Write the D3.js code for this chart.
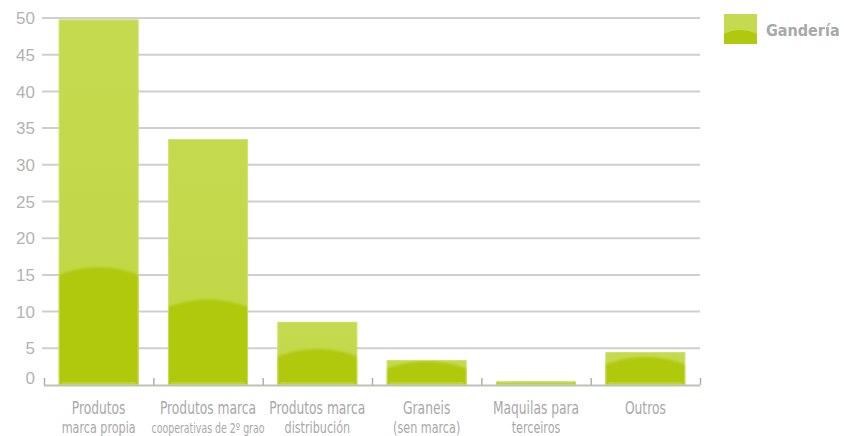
<!DOCTYPE html>
<html>
<head>
<meta charset="utf-8">
<script src="https://cdn.jsdelivr.net/npm/d3@7"></script>
<style>
  body { margin: 0; background: #fff; }
  svg { display: block; }
</style>
</head>
<body>
<svg id="chart"></svg>
<script>
const width = 844;
const height = 436;
const margin = { top: 18, right: 144, bottom: 51, left: 44 };

const categories = [
    ["Produtos", "marca propia"],
    ["Produtos marca", "cooperativas de 2º grao"],
    ["Produtos marca", "distribución"],
    ["Graneis", "(sen marca)"],
    ["Maquilas para", "terceiros"],
    ["Outros", ""]
];
const values = [49.8, 33.5, 8.6, 3.4, 0.5, 4.5];
const yTicks = [0, 5, 10, 15, 20, 25, 30, 35, 40, 45, 50];
const seriesName = "Gandería";

const graphWidth = width - margin.left - margin.right;
const graphHeight = height - margin.top - margin.bottom;

const svg = d3.select("#chart")
    .attr("width", width)
    .attr("height", height);

const defs = svg.append("defs");
const shine = defs.append("linearGradient")
    .attr("id", "shine")
    .attr("x1", 0).attr("y1", 0).attr("x2", 0).attr("y2", 1);
shine.append("stop").attr("offset", "0%").attr("stop-color", "#c6da50");
shine.append("stop").attr("offset", "100%").attr("stop-color", "#c0d642");

const blur = defs.append("filter").attr("id", "soft")
    .attr("x", "-5%").attr("y", "-20%").attr("width", "110%").attr("height", "140%");
blur.append("feGaussianBlur").attr("stdDeviation", 1.2);

const graph = svg.append("g")
    .attr("transform", `translate(${margin.left},${margin.top})`);

const xScale = d3.scaleBand()
    .domain(d3.range(categories.length))
    .range([0, graphWidth])
    .paddingInner(0.27)
    .paddingOuter(0.135);

const yScale = d3.scaleLinear()
    .domain([0, 50])
    .range([graphHeight, 0]);

// grid lines
graph.append("g")
    .selectAll("line")
    .data(yTicks.filter(d => d > 0))
    .join("line")
    .attr("x1", -2)
    .attr("x2", graphWidth)
    .attr("y1", d => yScale(d))
    .attr("y2", d => yScale(d))
    .attr("stroke", "#cfcfcf")
    .attr("stroke-width", 2);

// y labels
graph.append("g")
    .selectAll("text")
    .data(yTicks)
    .join("text")
    .attr("x", -9)
    .attr("y", d => yScale(d) - (d === 0 ? 7 : 0))
    .attr("dy", "0.36em")
    .attr("text-anchor", "end")
    .attr("fill", "#b3b3b3")
    .style("font-family", "'Liberation Sans', Arial, sans-serif")
    .style("font-size", "17px")
    .text(d => d);

// bars
const step = xScale.step();
const bars = graph.append("g")
    .selectAll("g")
    .data(values)
    .join("g");

bars.each(function (d, i) {
    const g = d3.select(this);
    const x = xScale(i);
    const w = xScale.bandwidth();
    const y = yScale(d);
    const h = graphHeight - y;
    const clipId = "clip" + i;
    defs.append("clipPath").attr("id", clipId)
        .append("rect")
        .attr("x", x).attr("y", y).attr("width", w).attr("height", h);

    g.append("rect")
        .attr("x", x).attr("y", y)
        .attr("width", w).attr("height", h)
        .attr("fill", "url(#shine)");

    const darkH = Math.min(h, 20 + 0.27 * h);
    const top = graphHeight - darkH;
    g.append("g")
        .attr("clip-path", `url(#${clipId})`)
        .append("path")
        .attr("filter", "url(#soft)")
        .attr("d", `M${x - 4},${graphHeight + 4} L${x - 4},${top + Math.min(10, darkH * 0.4)}
            Q${x + w / 2},${top - Math.min(8, darkH * 0.3)} ${x + w + 4},${top + Math.min(10, darkH * 0.4)}
            L${x + w + 4},${graphHeight + 4} Z`)
        .attr("fill", "#b0c90e");

    g.append("rect")
        .attr("x", x + 0.5).attr("y", y + 0.5)
        .attr("width", w - 1).attr("height", Math.max(0, h - 1))
        .attr("fill", "none")
        .attr("stroke", "#d6e67a")
        .attr("stroke-opacity", 0.7);
    g.append("line")
        .attr("x1", x + 3).attr("x2", x + w - 3)
        .attr("y1", graphHeight - 2).attr("y2", graphHeight - 2)
        .attr("stroke", "#d9e98a")
        .attr("stroke-opacity", 0.6);
});

// baseline and ticks
graph.append("line")
    .attr("x1", 0).attr("x2", graphWidth)
    .attr("y1", graphHeight + 0.5).attr("y2", graphHeight + 0.5)
    .attr("stroke", "#b9c4b3")
    .attr("stroke-width", 2);

graph.append("g")
    .selectAll("line")
    .data(d3.range(categories.length + 1))
    .join("line")
    .attr("x1", i => i * step + 0.5)
    .attr("x2", i => i * step + 0.5)
    .attr("y1", graphHeight - 7)
    .attr("y2", graphHeight)
    .attr("stroke", "#b0b0b0")
    .attr("stroke-width", 1.5);

// x labels (each line narrowed to look like the condensed face of the original)
const labelGroups = graph.append("g")
    .selectAll("g")
    .data(categories)
    .join("g")
    .attr("transform", (d, i) =>
        `translate(${xScale(i) + xScale.bandwidth() / 2},${graphHeight})`);

labelGroups.append("text")
    .attr("transform", "translate(0,29) scale(0.78,1)")
    .attr("text-anchor", "middle")
    .attr("fill", "#a8a8a8")
    .style("font-family", "'DejaVu Sans Condensed', sans-serif")
    .style("font-size", "17.5px")
    .text(d => d[0]);

labelGroups.append("text")
    .attr("transform", (d, i) => i === 1
        ? "translate(0,47.5) scale(0.78,1)"
        : "translate(0,47.5) scale(0.83,1)")
    .attr("text-anchor", "middle")
    .attr("fill", "#a8a8a8")
    .style("font-family", "'DejaVu Sans Condensed', sans-serif")
    .style("font-size", (d, i) => i === 1 ? "13.4px" : "15px")
    .text(d => d[1]);

// legend
const legend = svg.append("g")
    .attr("transform", "translate(724,14)");
legend.append("rect")
    .attr("width", 33).attr("height", 30)
    .attr("fill", "#c6da50");
legend.append("path")
    .attr("d", "M0,30 L0,20 Q16.5,12 33,20 L33,30 Z")
    .attr("fill", "#b0c90e");
legend.append("text")
    .attr("x", 42)
    .attr("y", 16)
    .attr("dy", "0.36em")
    .attr("fill", "#a8a8a8")
    .style("font-family", "'DejaVu Sans Condensed', sans-serif")
    .style("font-weight", "bold")
    .style("font-size", "16px")
    .text(seriesName);
</script>
</body>
</html>
